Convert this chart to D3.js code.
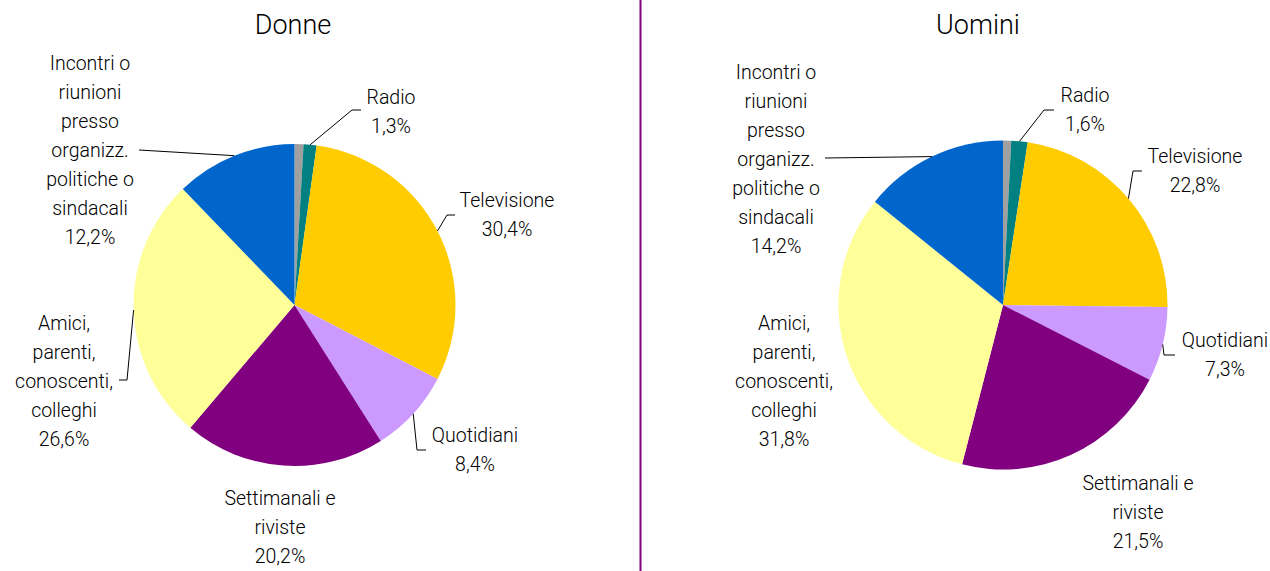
<!DOCTYPE html>
<html><head><meta charset="utf-8">
<script src="https://cdn.jsdelivr.net/npm/d3@7"></script>
<style>
html,body{margin:0;padding:0;background:#fff;}
text{font-family:Roboto,"Liberation Sans",sans-serif;font-weight:300;fill:#000;}
</style></head>
<body>
<svg id="chart" width="1270" height="571"></svg>
<script>
// ---- data ----
const categories = ["Altro", "Radio", "Televisione", "Quotidiani", "Settimanali e riviste",
  "Amici, parenti, conoscenti, colleghi", "Incontri o riunioni presso organizz. politiche o sindacali"];
const labelLines = [
  [],
  ["Radio"],
  ["Televisione"],
  ["Quotidiani"],
  ["Settimanali e", "riviste"],
  ["Amici,", "parenti,", "conoscenti,", "colleghi"],
  ["Incontri o", "riunioni", "presso", "organizz.", "politiche o", "sindacali"]
];
const titles = ["Donne", "Uomini"];
const donneValues = [0.9, 1.3, 30.4, 8.4, 20.2, 26.6, 12.2];
const uominiValues = [0.8, 1.6, 22.8, 7.3, 21.5, 31.8, 14.2];
const colors = ["#A0A0A0", "#008080", "#FFCC00", "#CC99FF", "#800080", "#FFFF99", "#0066CC"];

// ---- layout ----
const layouts = [
  { cx: 294.5, cy: 305, r: 161, title: [293, 34],
    labels: { 1: [391, 104], 2: [507, 207], 3: [475, 442], 4: [280, 505], 5: [64, 330], 6: [90, 70] },
    leaders: { 1: [[361,110],[352,110]], 2: [[455,215],[447,215]], 3: [[426,450],[417,450]],
               5: [[119,380],[127,380]], 6: [[139,150]] } },
  { cx: 1003, cy: 305, r: 164.5, title: [978, 34],
    labels: { 1: [1085, 102], 2: [1195, 163], 3: [1225, 347], 4: [1138, 490], 5: [784, 330], 6: [776, 79] },
    leaders: { 1: [[1054,110],[1044,110]], 2: [[1142,171],[1133,171]], 3: [[1175,355],[1164,355]],
               6: [[825,158]] } }
];
const lineH = 29;

const svg = d3.select("#chart");
svg.append("rect").attr("width", 1270).attr("height", 571).attr("fill", "#fff");

// divider
svg.append("line").attr("x1", 640.5).attr("x2", 640.5).attr("y1", 0).attr("y2", 571)
  .attr("stroke", "#800080").attr("stroke-width", 2);

const fmt = v => v.toFixed(1).replace(".", ",") + "%";
const pie = d3.pie().sort(null).value(d => d);
const color = d3.scaleOrdinal().domain(categories).range(colors);

[donneValues, uominiValues].forEach((vals, ci) => {
  const L = layouts[ci];
  const arcs = pie(vals);
  const arc = d3.arc().innerRadius(0).outerRadius(L.r);
  const g = svg.append("g");

  g.append("text").attr("x", L.title[0]).attr("y", L.title[1])
    .attr("text-anchor", "middle").attr("font-size", 27).text(titles[ci]);

  const pg = g.append("g").attr("transform", `translate(${L.cx},${L.cy})`);
  pg.selectAll("path").data(arcs).join("path")
    .attr("d", arc).attr("fill", (d, i) => color(categories[i]));

  // leader lines
  Object.entries(L.leaders).forEach(([k, pts]) => {
    const a = arcs[+k];
    const mid = (a.startAngle + a.endAngle) / 2;
    const edge = [L.cx + L.r * Math.sin(mid), L.cy - L.r * Math.cos(mid)];
    g.append("path").attr("d", d3.line()([...pts, edge]))
      .attr("fill", "none").attr("stroke", "#000").attr("stroke-width", 1);
  });

  // labels
  Object.entries(L.labels).forEach(([k, pos]) => {
    const lines = [...labelLines[+k], fmt(vals[+k])];
    const t = g.append("text").attr("text-anchor", "middle").attr("font-size", 19.5);
    lines.forEach((s, j) => {
      t.append("tspan").attr("x", pos[0]).attr("y", pos[1] + j * lineH).text(s);
    });
  });
});
</script>
</body></html>
